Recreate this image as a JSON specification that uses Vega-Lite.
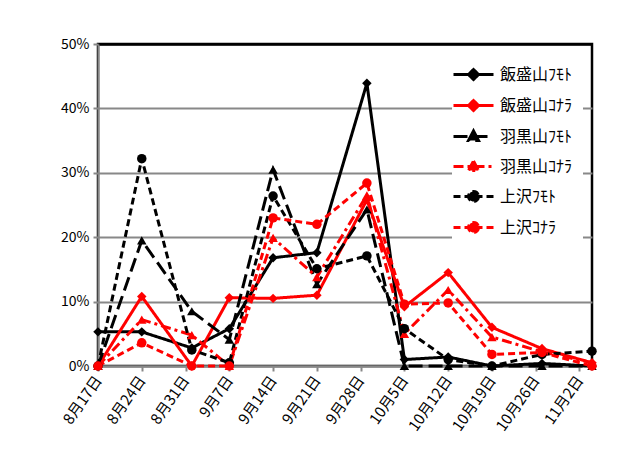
{
  "$schema": "https://vega.github.io/schema/vega-lite/v6.json",
  "width": 494,
  "height": 322,
  "autosize": "none",
  "padding": {"left": 98, "top": 44, "right": 35, "bottom": 102},
  "background": "white",
  "config": {
    "font": "Noto Sans CJK JP",
    "view": {"stroke": "black", "strokeWidth": 2.5},
    "axis": {
      "domainColor": "#888888",
      "domainWidth": 2,
      "tickColor": "#888888",
      "tickWidth": 2,
      "tickSize": 5,
      "labelColor": "black",
      "labelFont": "Noto Sans CJK JP",
      "title": null
    },
    "legend": {
      "orient": "none",
      "legendX": 354,
      "legendY": 9,
      "fillColor": "white",
      "padding": 10,
      "labelFont": "Noto Sans CJK JP",
      "labelFontSize": 16,
      "labelColor": "black",
      "symbolStrokeWidth": 3,
      "symbolOpacity": 1,
      "symbolSize": 400,
      "labelOffset": 15,
      "rowPadding": 8,
      "title": null
    }
  },
  "data": {
    "values": [
      {"date": "2014/08/17", "series": "飯盛山ﾌﾓﾄ", "rate": 5.3},
      {"date": "2014/08/24", "series": "飯盛山ﾌﾓﾄ", "rate": 5.3},
      {"date": "2014/09/01", "series": "飯盛山ﾌﾓﾄ", "rate": 2.8},
      {"date": "2014/09/07", "series": "飯盛山ﾌﾓﾄ", "rate": 5.8},
      {"date": "2014/09/14", "series": "飯盛山ﾌﾓﾄ", "rate": 16.8},
      {"date": "2014/09/21", "series": "飯盛山ﾌﾓﾄ", "rate": 17.6},
      {"date": "2014/09/29", "series": "飯盛山ﾌﾓﾄ", "rate": 43.9},
      {"date": "2014/10/05", "series": "飯盛山ﾌﾓﾄ", "rate": 1.0},
      {"date": "2014/10/12", "series": "飯盛山ﾌﾓﾄ", "rate": 1.4},
      {"date": "2014/10/19", "series": "飯盛山ﾌﾓﾄ", "rate": 0},
      {"date": "2014/10/27", "series": "飯盛山ﾌﾓﾄ", "rate": 0.4},
      {"date": "2014/11/04", "series": "飯盛山ﾌﾓﾄ", "rate": 0},
      {"date": "2014/08/17", "series": "飯盛山ｺﾅﾗ", "rate": 0},
      {"date": "2014/08/24", "series": "飯盛山ｺﾅﾗ", "rate": 10.8},
      {"date": "2014/09/01", "series": "飯盛山ｺﾅﾗ", "rate": 0},
      {"date": "2014/09/07", "series": "飯盛山ｺﾅﾗ", "rate": 10.6},
      {"date": "2014/09/14", "series": "飯盛山ｺﾅﾗ", "rate": 10.5},
      {"date": "2014/09/21", "series": "飯盛山ｺﾅﾗ", "rate": 11.0},
      {"date": "2014/09/29", "series": "飯盛山ｺﾅﾗ", "rate": 25.8},
      {"date": "2014/10/05", "series": "飯盛山ｺﾅﾗ", "rate": 9.2},
      {"date": "2014/10/12", "series": "飯盛山ｺﾅﾗ", "rate": 14.5},
      {"date": "2014/10/19", "series": "飯盛山ｺﾅﾗ", "rate": 6.0},
      {"date": "2014/10/27", "series": "飯盛山ｺﾅﾗ", "rate": 2.7},
      {"date": "2014/11/04", "series": "飯盛山ｺﾅﾗ", "rate": 0.5},
      {"date": "2014/08/17", "series": "羽黒山ﾌﾓﾄ", "rate": 0},
      {"date": "2014/08/24", "series": "羽黒山ﾌﾓﾄ", "rate": 19.5},
      {"date": "2014/09/01", "series": "羽黒山ﾌﾓﾄ", "rate": 8.5},
      {"date": "2014/09/07", "series": "羽黒山ﾌﾓﾄ", "rate": 4.1},
      {"date": "2014/09/14", "series": "羽黒山ﾌﾓﾄ", "rate": 30.5},
      {"date": "2014/09/21", "series": "羽黒山ﾌﾓﾄ", "rate": 12.7},
      {"date": "2014/09/29", "series": "羽黒山ﾌﾓﾄ", "rate": 24.3},
      {"date": "2014/10/05", "series": "羽黒山ﾌﾓﾄ", "rate": 0},
      {"date": "2014/10/12", "series": "羽黒山ﾌﾓﾄ", "rate": 0},
      {"date": "2014/10/19", "series": "羽黒山ﾌﾓﾄ", "rate": 0},
      {"date": "2014/10/27", "series": "羽黒山ﾌﾓﾄ", "rate": 0},
      {"date": "2014/11/04", "series": "羽黒山ﾌﾓﾄ", "rate": 0},
      {"date": "2014/08/17", "series": "羽黒山ｺﾅﾗ", "rate": 0},
      {"date": "2014/08/24", "series": "羽黒山ｺﾅﾗ", "rate": 7.2},
      {"date": "2014/09/01", "series": "羽黒山ｺﾅﾗ", "rate": 4.8},
      {"date": "2014/09/07", "series": "羽黒山ｺﾅﾗ", "rate": 0},
      {"date": "2014/09/14", "series": "羽黒山ｺﾅﾗ", "rate": 19.9},
      {"date": "2014/09/21", "series": "羽黒山ｺﾅﾗ", "rate": 13.8},
      {"date": "2014/09/29", "series": "羽黒山ｺﾅﾗ", "rate": 26.5},
      {"date": "2014/10/05", "series": "羽黒山ｺﾅﾗ", "rate": 5.0},
      {"date": "2014/10/12", "series": "羽黒山ｺﾅﾗ", "rate": 11.8},
      {"date": "2014/10/19", "series": "羽黒山ｺﾅﾗ", "rate": 4.5},
      {"date": "2014/10/27", "series": "羽黒山ｺﾅﾗ", "rate": 2.2},
      {"date": "2014/11/04", "series": "羽黒山ｺﾅﾗ", "rate": 0.5},
      {"date": "2014/08/17", "series": "上沢ﾌﾓﾄ", "rate": 0},
      {"date": "2014/08/24", "series": "上沢ﾌﾓﾄ", "rate": 32.2},
      {"date": "2014/09/01", "series": "上沢ﾌﾓﾄ", "rate": 2.5},
      {"date": "2014/09/07", "series": "上沢ﾌﾓﾄ", "rate": 0.5},
      {"date": "2014/09/14", "series": "上沢ﾌﾓﾄ", "rate": 26.4},
      {"date": "2014/09/21", "series": "上沢ﾌﾓﾄ", "rate": 15.1},
      {"date": "2014/09/29", "series": "上沢ﾌﾓﾄ", "rate": 17.1},
      {"date": "2014/10/05", "series": "上沢ﾌﾓﾄ", "rate": 5.8},
      {"date": "2014/10/12", "series": "上沢ﾌﾓﾄ", "rate": 1.0},
      {"date": "2014/10/19", "series": "上沢ﾌﾓﾄ", "rate": 0},
      {"date": "2014/10/27", "series": "上沢ﾌﾓﾄ", "rate": 1.8},
      {"date": "2014/11/04", "series": "上沢ﾌﾓﾄ", "rate": 2.3},
      {"date": "2014/08/17", "series": "上沢ｺﾅﾗ", "rate": 0},
      {"date": "2014/08/24", "series": "上沢ｺﾅﾗ", "rate": 3.6},
      {"date": "2014/09/01", "series": "上沢ｺﾅﾗ", "rate": 0},
      {"date": "2014/09/07", "series": "上沢ｺﾅﾗ", "rate": 0},
      {"date": "2014/09/14", "series": "上沢ｺﾅﾗ", "rate": 23.0},
      {"date": "2014/09/21", "series": "上沢ｺﾅﾗ", "rate": 22.0},
      {"date": "2014/09/29", "series": "上沢ｺﾅﾗ", "rate": 28.4},
      {"date": "2014/10/05", "series": "上沢ｺﾅﾗ", "rate": 9.6},
      {"date": "2014/10/12", "series": "上沢ｺﾅﾗ", "rate": 9.8},
      {"date": "2014/10/19", "series": "上沢ｺﾅﾗ", "rate": 1.8},
      {"date": "2014/10/27", "series": "上沢ｺﾅﾗ", "rate": 2.1},
      {"date": "2014/11/04", "series": "上沢ｺﾅﾗ", "rate": 0}
    ]
  },
  "encoding": {
    "x": {
      "field": "date",
      "type": "temporal",
      "scale": {"domain": [{"year": 2014, "month": 8, "date": 17}, {"year": 2014, "month": 11, "date": 4}]},
      "axis": {
        "tickCount": {"interval": "week", "step": 1},
        "format": "%-m月%-d日",
        "labelAngle": -55,
        "labelAlign": "right",
        "labelBaseline": "middle",
        "labelFontSize": 15,
        "labelPadding": 6,
        "grid": false,
        "labelOverlap": false,
        "labelFlush": false
      }
    },
    "y": {
      "field": "rate",
      "type": "quantitative",
      "scale": {"domain": [0, 50]},
      "axis": {
        "values": [0, 10, 20, 30, 40, 50],
        "labelExpr": "datum.value + '%'",
        "labelFontSize": 14,
        "labelPadding": 4,
        "grid": true,
        "gridColor": {"condition": {"test": "datum.value == 50", "value": "black"}, "value": "#888888"},
        "gridWidth": {"condition": {"test": "datum.value == 50", "value": 2.5}, "value": 2}
      }
    }
  },
  "layer": [
    {
      "mark": {"type": "line", "strokeWidth": 3},
      "encoding": {
        "color": {
          "field": "series", "type": "nominal", "legend": null,
          "scale": {"domain": ["飯盛山ﾌﾓﾄ", "飯盛山ｺﾅﾗ", "羽黒山ﾌﾓﾄ", "羽黒山ｺﾅﾗ", "上沢ﾌﾓﾄ", "上沢ｺﾅﾗ"], "range": ["#000000", "#ff0000", "#000000", "#ff0000", "#000000", "#ff0000"]}
        },
        "strokeDash": {
          "field": "series", "type": "nominal", "legend": null,
          "scale": {"domain": ["飯盛山ﾌﾓﾄ", "飯盛山ｺﾅﾗ", "羽黒山ﾌﾓﾄ", "羽黒山ｺﾅﾗ", "上沢ﾌﾓﾄ", "上沢ｺﾅﾗ"], "range": [[1, 0], [1, 0], [14, 6], [10, 4, 3, 4], [7, 4], [7, 4]]}
        }
      }
    },
    {
      "mark": {"type": "point", "filled": true, "opacity": 1, "size": 90},
      "encoding": {
        "color": {
          "field": "series", "type": "nominal", "legend": null,
          "scale": {"domain": ["飯盛山ﾌﾓﾄ", "飯盛山ｺﾅﾗ", "羽黒山ﾌﾓﾄ", "羽黒山ｺﾅﾗ", "上沢ﾌﾓﾄ", "上沢ｺﾅﾗ"], "range": ["#000000", "#ff0000", "#000000", "#ff0000", "#000000", "#ff0000"]}
        },
        "shape": {
          "field": "series", "type": "nominal", "legend": null,
          "scale": {"domain": ["飯盛山ﾌﾓﾄ", "飯盛山ｺﾅﾗ", "羽黒山ﾌﾓﾄ", "羽黒山ｺﾅﾗ", "上沢ﾌﾓﾄ", "上沢ｺﾅﾗ"], "range": ["diamond", "diamond", "triangle-up", "triangle-up", "circle", "circle"]}
        }
      }
    },
    {
      "mark": {"type": "point", "filled": true, "opacity": 0, "size": 400, "strokeWidth": 3},
      "encoding": {
        "fill": {
          "field": "series", "type": "nominal",
          "scale": {"domain": ["飯盛山ﾌﾓﾄ", "飯盛山ｺﾅﾗ", "羽黒山ﾌﾓﾄ", "羽黒山ｺﾅﾗ", "上沢ﾌﾓﾄ", "上沢ｺﾅﾗ"], "range": ["#000000", "#ff0000", "#000000", "#ff0000", "#000000", "#ff0000"]}
        },
        "stroke": {
          "field": "series", "type": "nominal",
          "scale": {"domain": ["飯盛山ﾌﾓﾄ", "飯盛山ｺﾅﾗ", "羽黒山ﾌﾓﾄ", "羽黒山ｺﾅﾗ", "上沢ﾌﾓﾄ", "上沢ｺﾅﾗ"], "range": ["#000000", "#ff0000", "#000000", "#ff0000", "#000000", "#ff0000"]}
        },
        "strokeDash": {
          "field": "series", "type": "nominal",
          "scale": {"domain": ["飯盛山ﾌﾓﾄ", "飯盛山ｺﾅﾗ", "羽黒山ﾌﾓﾄ", "羽黒山ｺﾅﾗ", "上沢ﾌﾓﾄ", "上沢ｺﾅﾗ"], "range": [[1, 0], [1, 0], [14, 6], [10, 4, 3, 4], [7, 4], [7, 4]]}
        },
        "shape": {
          "field": "series", "type": "nominal",
          "scale": {"domain": ["飯盛山ﾌﾓﾄ", "飯盛山ｺﾅﾗ", "羽黒山ﾌﾓﾄ", "羽黒山ｺﾅﾗ", "上沢ﾌﾓﾄ", "上沢ｺﾅﾗ"], "range": [
            "M-2,0H2M0,-0.5L0.5,0L0,0.5L-0.5,0Z",
            "M-2,0H2M0,-0.5L0.5,0L0,0.5L-0.5,0Z",
            "M-2,0H2M0,-0.55L0.5,0.4L-0.5,0.4Z",
            "M-2,0H2M0,-0.55L0.5,0.4L-0.5,0.4Z",
            "M-2,0H2M0.5,0A0.5,0.5,0,1,1,-0.5,0A0.5,0.5,0,1,1,0.5,0Z",
            "M-2,0H2M0.5,0A0.5,0.5,0,1,1,-0.5,0A0.5,0.5,0,1,1,0.5,0Z"
          ]}
        }
      }
    }
  ],
  "resolve": {"scale": {"color": "independent", "shape": "independent", "strokeDash": "independent", "fill": "independent", "stroke": "independent"}}
}
